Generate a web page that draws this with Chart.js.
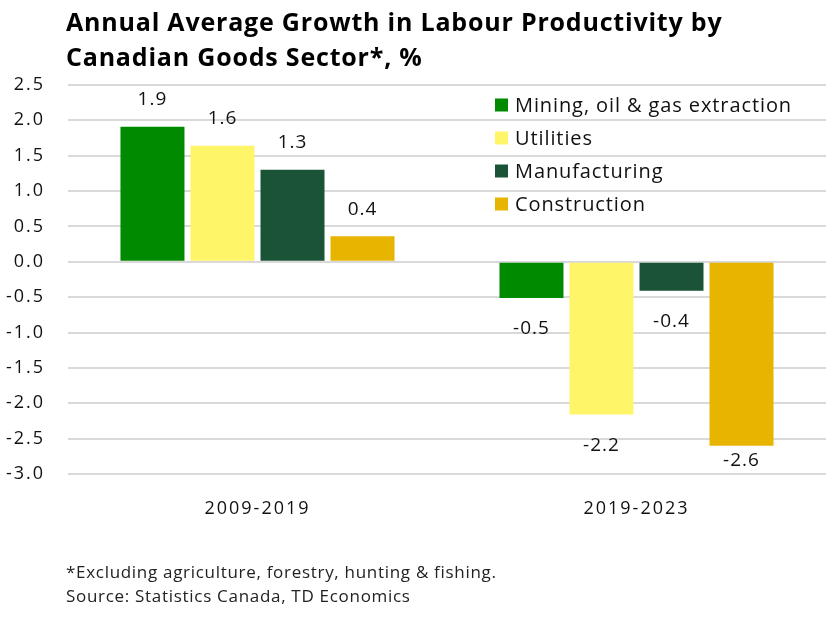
<!DOCTYPE html>
<html>
<head>
<meta charset="utf-8">
<script src="https://cdn.jsdelivr.net/npm/chart.js@4.4.1/dist/chart.umd.min.js"></script>
<style>
  html, body { margin: 0; padding: 0; background: #fff; }
  #wrap { position: relative; width: 827px; height: 617px; overflow: hidden; font-family: "Open Sans", sans-serif; color: #111; }
  #wrap canvas { position: absolute; left: 0; top: 0; }
  .title { position: absolute; left: 66px; top: 4px; font-weight: bold; font-size: 25px; line-height: 35px; letter-spacing: 0.8px; color: #000; white-space: nowrap; }
  .notes { position: absolute; left: 66px; top: 560px; font-size: 17px; line-height: 24px; letter-spacing: 0.7px; color: #222; white-space: nowrap; }
</style>
</head>
<body>
<div id="wrap">
  <canvas id="chart" width="827" height="617"></canvas>
  <div class="title">Annual Average Growth in Labour Productivity by<br>Canadian Goods Sector*, %</div>
  <div class="notes">*Excluding agriculture, forestry, hunting &amp; fishing.<br>Source: Statistics Canada, TD Economics</div>
</div>
<script>
'use strict';

const periods = ['2009-2019', '2019-2023'];
const sectors = ['Mining, oil & gas extraction', 'Utilities', 'Manufacturing', 'Construction'];
const mining = [1.91, -0.51];
const utilities = [1.64, -2.16];
const manufacturing = [1.30, -0.41];
const construction = [0.36, -2.60];
const yTicks = [2.5, 2.0, 1.5, 1.0, 0.5, 0.0, -0.5, -1.0, -1.5, -2.0, -2.5, -3.0];

const colours = ['#008a00', '#fff568', '#1b5337', '#e7b400'];
const FONT = '"Open Sans", sans-serif';

// wider spacing for the axis text (chart.js has no option for it)
const spacing = {
  id: 'spacing',
  beforeDraw(chart) { chart.ctx.letterSpacing = '2px'; }
};

// value labels beyond each bar end, kept inside the plot area
const barLabels = {
  id: 'barLabels',
  afterDatasetsDraw(chart) {
    const ctx = chart.ctx, area = chart.chartArea;
    ctx.save();
    ctx.font = '19px ' + FONT;
    ctx.letterSpacing = '1px';
    ctx.fillStyle = '#111';
    ctx.textAlign = 'center';
    ctx.textBaseline = 'middle';
    chart.data.datasets.forEach((ds, i) => {
      chart.getDatasetMeta(i).data.forEach((bar, j) => {
        const v = ds.data[j];
        let y = v >= 0 ? bar.y - 27 : bar.y + 31;
        y = Math.min(y, area.bottom - 13);
        ctx.fillText(v.toFixed(1), bar.x, y);
      });
    });
    ctx.restore();
  }
};

// legend drawn inside the plot area, top right
const innerLegend = {
  id: 'innerLegend',
  afterDraw(chart) {
    const ctx = chart.ctx, area = chart.chartArea;
    const x = area.left + 427, y0 = area.top + 20;
    ctx.save();
    ctx.font = '20px ' + FONT;
    ctx.letterSpacing = '0.9px';
    ctx.textBaseline = 'middle';
    chart.data.datasets.forEach((ds, i) => {
      const y = y0 + i * 33;
      ctx.fillStyle = ds.backgroundColor;
      ctx.fillRect(x, y - 6.5, 13, 13);
      ctx.fillStyle = '#111';
      ctx.fillText(ds.label, x + 20, y + 1);
    });
    ctx.restore();
  }
};

const series = [mining, utilities, manufacturing, construction];

new Chart(document.getElementById('chart'), {
  type: 'bar',
  data: {
    labels: periods,
    datasets: series.map((d, i) => ({
      label: sectors[i],
      data: d,
      backgroundColor: colours[i],
      categoryPercentage: 0.739,
      barPercentage: 0.914
    }))
  },
  options: {
    responsive: false,
    animation: false,
    layout: { padding: { top: 85, right: 1, left: 0, bottom: 0 } },
    plugins: { legend: { display: false }, tooltip: { enabled: false }, title: { display: false } },
    scales: {
      x: {
        grid: { display: false, drawTicks: false },
        border: { display: false },
        ticks: { color: '#111', font: { family: FONT, size: 18 }, padding: 24 },
        afterFit: s => { s.height = 143; }
      },
      y: {
        min: -3, max: 2.5,
        afterBuildTicks: s => { s.ticks = yTicks.map(v => ({ value: v })); },
        grid: { color: '#d9d9d9', lineWidth: 2, drawTicks: false },
        border: { display: false },
        ticks: { color: '#111', font: { family: FONT, size: 18 }, padding: 23, callback: v => v.toFixed(1) },
        afterFit: s => { s.width = 68; }
      }
    }
  },
  plugins: [spacing, barLabels, innerLegend]
});
</script>
</body>
</html>
